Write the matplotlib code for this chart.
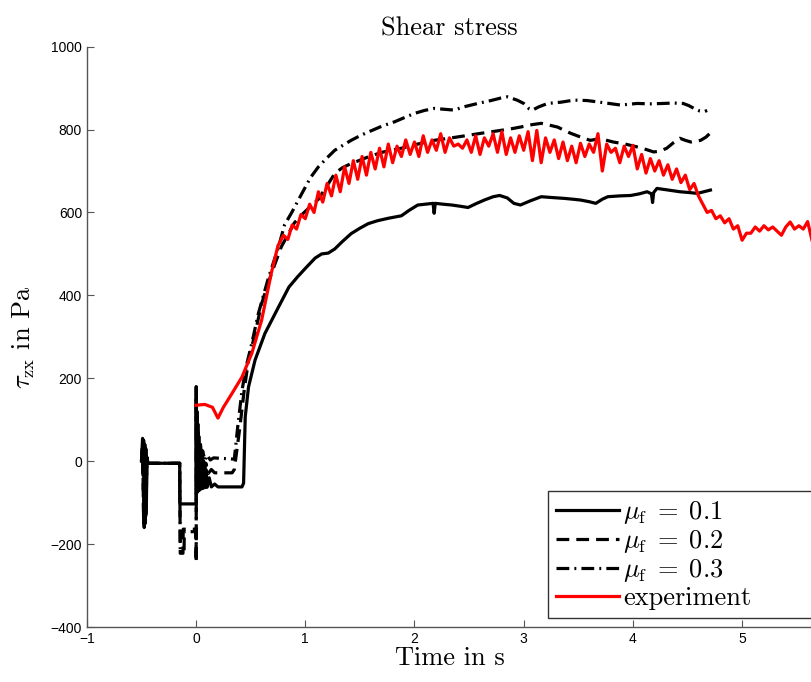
import matplotlib
matplotlib.use('Agg')
import matplotlib.pyplot as plt

plt.rcParams['mathtext.fontset'] = 'cm'
plt.rcParams['font.family'] = ['Liberation Sans', 'DejaVu Sans']

# mu_f = 0.1 (solid)
t1 = [-0.50, -0.49, -0.485, -0.48, -0.475, -0.47, -0.465, -0.46, -0.455, -0.45, -0.44, -0.30, -0.15,
      -0.149, -0.10, 0.0, 0.001, 0.004, 0.008, 0.012, 0.016, 0.02, 0.025, 0.03, 0.035, 0.04, 0.05,
      0.06, 0.07, 0.08, 0.09, 0.10, 0.12, 0.14, 0.17, 0.20, 0.42, 0.435, 0.45, 0.48, 0.54, 0.63,
      0.755, 0.85, 0.93, 1.0, 1.09, 1.15, 1.21, 1.27, 1.34, 1.42, 1.50, 1.576, 1.66, 1.76, 1.88,
      1.95, 2.03, 2.10, 2.17, 2.18, 2.19, 2.26, 2.34, 2.42, 2.49, 2.57, 2.64, 2.72, 2.78, 2.85,
      2.91, 2.97, 3.06, 3.16, 3.26, 3.37, 3.45, 3.52, 3.60, 3.66, 3.72, 3.77, 3.88, 3.98, 4.06,
      4.13, 4.17, 4.18, 4.19, 4.22, 4.30, 4.43, 4.52, 4.59, 4.65, 4.71]
v1 = [0, 55, -30, 50, -160, 40, -150, 30, -100, 10, -5, -5, -5,
      -103, -103, -103, 180, -70, 120, -75, 90, -72, 60, -70, 40, -68, 20,
      -66, 0, -64, -20, -63, -40, -62, -55, -62, -62, -53, 107, 179, 244, 308,
      372, 420, 445, 465, 490, 500, 502, 512, 530, 549, 562, 573, 580, 586, 592,
      605, 618, 620, 622, 598, 622, 620, 618, 615, 612, 622, 630, 638, 641, 635,
      622, 618, 628, 638, 636, 634, 632, 630, 626, 622, 632, 638, 640, 641, 645,
      650, 645, 624, 648, 658, 655, 650, 648, 646, 650, 654]

# mu_f = 0.2 (dashed)
t2 = [-0.50, -0.49, -0.48, -0.47, -0.46, -0.45, -0.44, -0.15, -0.145, -0.12, -0.118, 0.0, 0.001,
      0.002, 0.005, 0.01, 0.015, 0.02, 0.03, 0.04, 0.05, 0.06, 0.07, 0.09, 0.11, 0.14, 0.17, 0.33,
      0.35, 0.40, 0.44, 0.48, 0.54, 0.60, 0.69, 0.78, 0.90, 0.97, 1.05, 1.12, 1.20, 1.27, 1.34,
      1.42, 1.50, 1.576, 1.70, 1.88, 2.03, 2.18, 2.34, 2.49, 2.61, 2.79, 2.91, 2.97, 3.08, 3.16,
      3.23, 3.31, 3.43, 3.55, 3.61, 3.70, 3.82, 3.93, 4.04, 4.12, 4.19, 4.25, 4.31, 4.37, 4.43,
      4.48, 4.53, 4.62, 4.67, 4.71]
v2 = [0, 45, -150, 40, -140, 5, -5, -5, -222, -222, -164, -164, -245,
      150, -60, 100, -45, 70, -40, 40, -35, 15, -32, -5, -30, -20, -28, -28,
      -20, 80, 170, 244, 308, 380, 453, 517, 575, 595, 615, 632, 665, 694, 708,
      718, 726, 734, 745, 755, 765, 774, 780, 786, 791, 798, 803, 806, 812, 815,
      811, 806, 791, 779, 774, 778, 770, 765, 758, 752, 746, 748, 755, 768, 779,
      774, 770, 774, 782, 792]

# mu_f = 0.3 (dash-dot)
t3 = [-0.50, -0.49, -0.48, -0.47, -0.46, -0.45, -0.44, -0.15, -0.145, -0.11, -0.108, 0.0, 0.001,
      0.003, 0.006, 0.01, 0.015, 0.02, 0.03, 0.04, 0.05, 0.06, 0.08, 0.10, 0.13, 0.16, 0.35,
      0.38, 0.42, 0.46, 0.51, 0.57, 0.66, 0.755, 0.81, 0.876, 0.967, 1.05, 1.12, 1.20, 1.27, 1.35,
      1.42, 1.50, 1.576, 1.70, 1.82, 1.90, 2.0, 2.09, 2.18, 2.27, 2.36, 2.47, 2.58, 2.70, 2.79,
      2.85, 2.94, 3.00, 3.05, 3.08, 3.14, 3.22, 3.34, 3.46, 3.58, 3.67, 3.78, 3.89, 3.96, 4.04,
      4.16, 4.28, 4.37, 4.46, 4.51, 4.56, 4.61, 4.65, 4.68]
v3 = [0, 40, -140, 30, -120, 0, -5, -5, -215, -215, -170, -170, -230,
      130, -20, 90, -10, 60, -5, 40, 0, 25, 2, 15, 3, 8, 5,
      80, 170, 230, 284, 356, 440, 517, 570, 600, 645, 685, 710, 732, 750, 763,
      774, 785, 794, 808, 819, 828, 839, 846, 851, 849, 847, 856, 863, 870, 876,
      879, 871, 863, 850, 847, 855, 863, 866, 871, 870, 867, 863, 859, 861, 863,
      862, 863, 864, 863, 858, 851, 845, 843, 846]

# experiment (red)
t_exp = [0.0, 0.08, 0.15, 0.20, 0.25, 0.33, 0.42, 0.51, 0.60, 0.69, 0.75, 0.80, 0.84, 0.88, 0.92,
         0.96, 1.00, 1.04, 1.08, 1.12, 1.16, 1.20, 1.24, 1.28, 1.32, 1.36, 1.40, 1.44, 1.48, 1.52,
         1.56, 1.60, 1.64, 1.68, 1.72, 1.76, 1.80, 1.84, 1.88, 1.92, 1.96, 2.00, 2.04, 2.08, 2.12,
         2.16, 2.20, 2.24, 2.28, 2.32, 2.36, 2.40, 2.44, 2.48, 2.52, 2.56, 2.60, 2.64, 2.68, 2.72,
         2.76, 2.80, 2.84, 2.88, 2.92, 2.96, 3.00, 3.04, 3.08, 3.12, 3.16, 3.20, 3.24, 3.28, 3.32,
         3.36, 3.40, 3.44, 3.48, 3.52, 3.56, 3.60, 3.64, 3.68, 3.72, 3.76, 3.80, 3.84, 3.88, 3.92,
         3.96, 4.00, 4.04, 4.08, 4.12, 4.16, 4.20, 4.24, 4.28, 4.32, 4.36, 4.40, 4.44, 4.48, 4.52,
         4.56, 4.60, 4.64, 4.68, 4.72, 4.76, 4.80, 4.84, 4.88, 4.92, 4.96, 5.00, 5.04, 5.08, 5.12,
         5.16, 5.20, 5.24, 5.28, 5.32, 5.36, 5.40, 5.44, 5.48, 5.52, 5.56, 5.60, 5.64]
v_exp = [135, 137, 130, 104, 130, 164, 203, 260, 340, 455, 520, 545, 535, 570, 560,
         595, 585, 620, 600, 650, 625, 670, 640, 690, 650, 710, 670, 725, 680, 735,
         690, 745, 705, 755, 710, 765, 720, 760, 735, 775, 740, 770, 735, 785, 745,
         775, 750, 790, 745, 780, 760, 765, 755, 775, 745, 785, 740, 780, 760, 790,
         745, 795, 740, 780, 745, 785, 750, 795, 725, 798, 720, 780, 745, 775, 730,
         770, 725, 760, 720, 767, 735, 765, 745, 790, 700, 765, 745, 755, 720, 760,
         735, 762, 705, 740, 695, 730, 700, 725, 690, 715, 680, 705, 672, 690, 655,
         670, 640, 620, 600, 605, 585, 592, 575, 585, 560, 568, 533, 550, 550, 565,
         555, 568, 558, 565, 555, 545, 565, 577, 560, 568, 560, 578, 533]

fig = plt.figure(figsize=(8.12, 6.82), dpi=100)
ax = fig.add_axes([0.107, 0.0806, 0.893, 0.851])

lw = 2.3
ax.plot(t1, v1, color='black', lw=lw, ls='-', label=r'$\mu_{\mathrm{f}}\;=\;0.1$')
ax.plot(t2, v2, color='black', lw=lw, ls=(0, (4, 2.2)), label=r'$\mu_{\mathrm{f}}\;=\;0.2$')
ax.plot(t3, v3, color='black', lw=lw, ls=(0, (4, 1.6, 0.6, 1.6)), label=r'$\mu_{\mathrm{f}}\;=\;0.3$')
ax.plot(t_exp, v_exp, color='red', lw=lw, ls='-', label='experiment')

ax.set_xlim(-1, 5.64)
ax.set_ylim(-400, 1000)
ax.set_xticks([-1, 0, 1, 2, 3, 4, 5])
ax.set_yticks([-400, -200, 0, 200, 400, 600, 800, 1000])

for s in ['top', 'right']:
    ax.spines[s].set_visible(False)
for s in ['left', 'bottom']:
    ax.spines[s].set_color('#555555')
    ax.spines[s].set_linewidth(1.0)
ax.tick_params(direction='in', length=5, color='#555555', labelsize=10, labelcolor='black')

serif = 'cmr10'
ax.set_title('Shear stress', fontsize=19, family=serif, pad=8)
ax.set_xlabel('Time in s', fontsize=19, family=serif, labelpad=0)
ax.set_ylabel(r'$\tau_{\mathrm{zx}}$ in Pa', fontsize=19, family=serif, labelpad=10)

leg = ax.legend(loc='lower left', bbox_to_anchor=(0.636, 0.0155, 0.45, 0.2), mode='expand',
                prop={'family': serif, 'size': 19}, frameon=True, fancybox=False, borderpad=0.3,
                labelspacing=0.08, handlelength=2.4, handletextpad=0.15, borderaxespad=0)
leg.get_frame().set_edgecolor('black')
leg.get_frame().set_linewidth(1.0)

plt.savefig('out.png', dpi=100)
